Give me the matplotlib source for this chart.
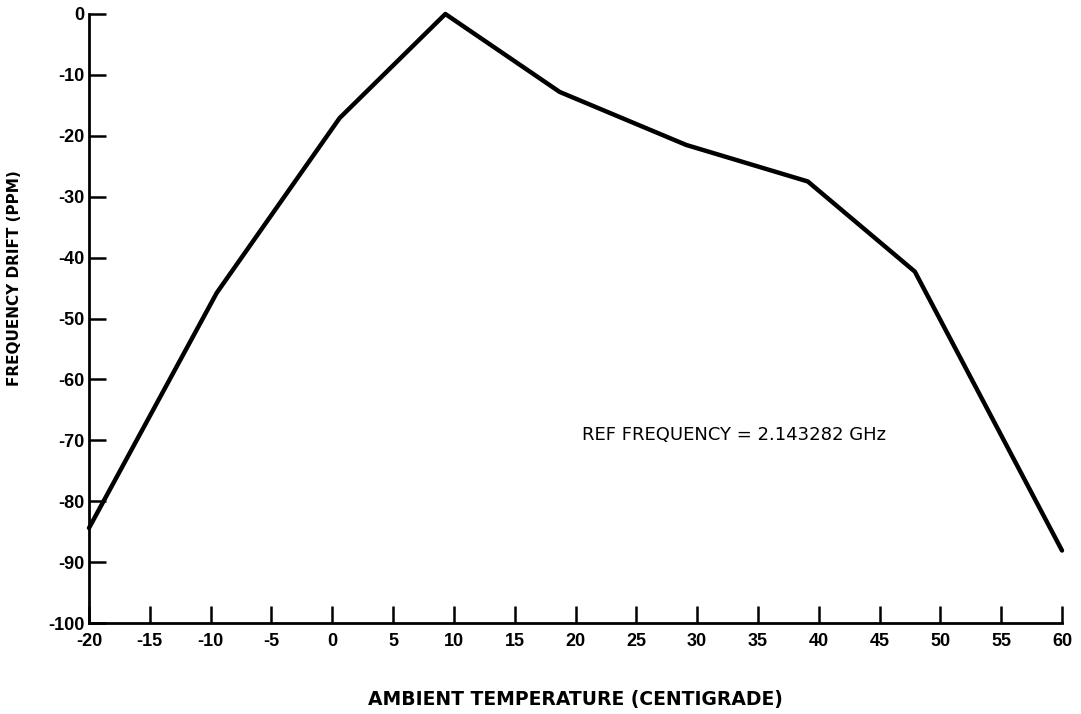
import matplotlib
matplotlib.use("Agg")
import matplotlib.pyplot as plt

# Measured frequency drift versus ambient temperature
temperature_c = [-20.0, -9.5, 0.6, 9.3, 18.7, 29.1, 39.1, 47.9, 60.0]
drift_ppm = [-84.4, -45.8, -17.1, 0.0, -12.8, -21.5, -27.5, -42.3, -88.1]

x_ticks = [-20, -15, -10, -5, 0, 5, 10, 15, 20, 25, 30, 35, 40, 45, 50, 55, 60]
y_ticks = [0, -10, -20, -30, -40, -50, -60, -70, -80, -90, -100]

x_label = "AMBIENT TEMPERATURE (CENTIGRADE)"
y_label = "FREQUENCY DRIFT (PPM)"
ref_note = "REF FREQUENCY = 2.143282 GHz"

fig = plt.figure(figsize=(10.81, 7.14), dpi=100)
ax = fig.add_axes([89 / 1081, 1 - 623 / 714, (1062 - 89) / 1081, (623 - 14) / 714])

ax.plot(temperature_c, drift_ppm, color="black", linewidth=3.2,
        solid_joinstyle="round", solid_capstyle="round", clip_on=False)

ax.set_xlim(-20, 60)
ax.set_ylim(-100, 0)

ax.spines["top"].set_visible(False)
ax.spines["right"].set_visible(False)
for side in ("left", "bottom"):
    ax.spines[side].set_linewidth(2.0)
    ax.spines[side].set_color("black")

ax.set_xticks(x_ticks)
ax.set_xticklabels([str(v) for v in x_ticks])
ax.set_yticks(y_ticks)
ax.set_yticklabels([str(v) for v in y_ticks])

ax.tick_params(axis="both", direction="in", length=12, width=1.8, color="black")
ax.tick_params(axis="x", pad=7)
ax.tick_params(axis="y", pad=3)
for lab in ax.get_xticklabels() + ax.get_yticklabels():
    lab.set_fontfamily(["Liberation Sans", "DejaVu Sans"])
    lab.set_fontweight("bold")
    lab.set_fontsize(13)

ax.set_xlabel(x_label, fontsize=13.5, fontweight="bold", family="DejaVu Sans",
              va="center")
ax.xaxis.set_label_coords(0.5, -0.126)
ax.set_ylabel(y_label, fontsize=11, fontweight="bold", family="DejaVu Sans")
ax.yaxis.set_label_coords(-0.069, 0.566)

ax.text(20.5, -69.1, ref_note, fontsize=13, family="DejaVu Sans",
        ha="left", va="center")

fig.savefig("out.png", dpi=100, facecolor="white")
